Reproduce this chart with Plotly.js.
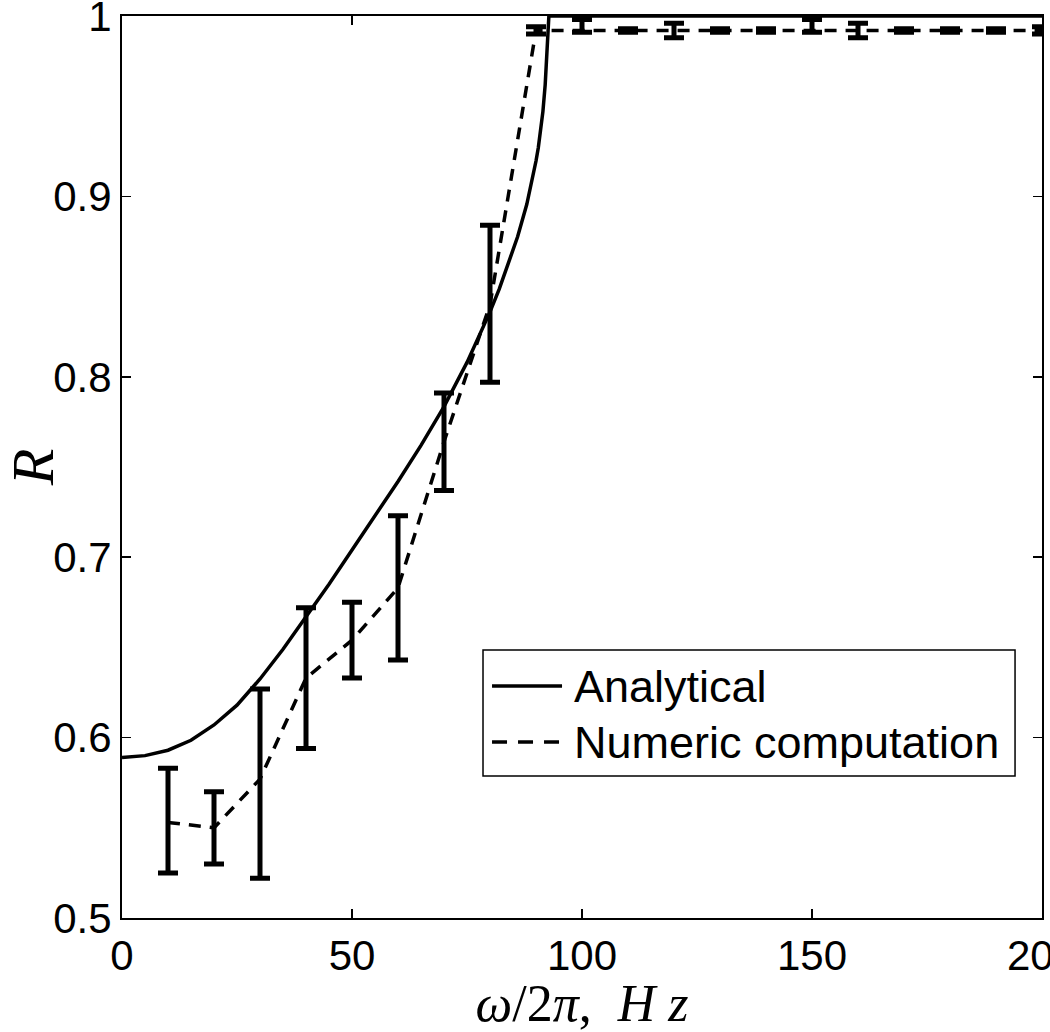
<!DOCTYPE html>
<html>
<head>
<meta charset="utf-8">
<script src="https://cdn.plot.ly/plotly-3.0.1.min.js"></script>
<style>html,body{margin:0;padding:0;background:#fff;}#chart{width:1050px;height:1032px;}</style>
</head>
<body>
<div id="chart"></div>
<script>
// Analytical curve
var analyticX = [0,5,10,15,20,25,30,35,40,45,50,55,60,65,70,75,80,82,84,86,88,89,90,90.5,91,91.5,92,92.3,92.6,92.8,200];
var analyticY = [0.589,0.590,0.593,0.5985,0.607,0.618,0.6325,0.649,0.667,0.685,0.704,0.723,0.742,0.762,0.7835,0.808,0.836,0.8486,0.8624,0.8776,0.8956,0.9066,0.9196,0.927,0.936,0.947,0.962,0.974,0.991,1.0,1.0];

// Numeric computation with error bars
var numericX = [10,20,30,40,50,60,70,80,90,100,110,120,130,140,150,160,170,180,190,200];
var numericY = [0.553,0.550,0.577,0.633,0.654,0.683,0.764,0.840,0.992,0.992,0.992,0.992,0.992,0.992,0.992,0.992,0.992,0.992,0.992,0.992];
var numericErrPlus  = [0.030,0.020,0.050,0.039,0.021,0.040,0.027,0.044,0.002,0.006,0.001,0.004,0.001,0.001,0.006,0.004,0.001,0.001,0.001,0.002];
var numericErrMinus = [0.028,0.020,0.055,0.039,0.021,0.040,0.027,0.043,0.002,0.001,0.001,0.004,0.001,0.001,0.001,0.004,0.001,0.001,0.001,0.002];

var seriesNames = ['Analytical', 'Numeric computation'];

var xTickVals = [0,50,100,150,200];
var xTickText = ['0','50','100','150','200'];
var yTickVals = [0.5,0.6,0.7,0.8,0.9,1];
var yTickText = ['0.5','0.6','0.7','0.8','0.9','1'];

var sansFont = 'Liberation Sans, Arial, sans-serif';
var serifFont = 'Liberation Serif, DejaVu Serif, serif';
var tickFont = {family: sansFont, size: 42, color: '#000'};

var traces = [
  {
    x: analyticX, y: analyticY, type: 'scatter', mode: 'lines',
    name: seriesNames[0], showlegend: false,
    line: {color: '#000', width: 3.5}
  },
  {
    x: numericX, y: numericY, type: 'scatter', mode: 'lines',
    name: seriesNames[1], showlegend: false,
    line: {color: '#000', width: 3.5, dash: '12px,9px'},
    error_y: {type: 'data', symmetric: false, array: numericErrPlus, arrayminus: numericErrMinus,
              color: '#000', thickness: 5, width: 10}
  }
];

// legend box drawn in paper coordinates
var legBox = {x0: 0.3924, x1: 0.9707, y0: 0.1574, y1: 0.2971};
var legRows = [0.2572, 0.1951];
var legLineX = [0.4022, 0.4783];
var legTextX = 0.4891;

var shapes = [
  {type: 'rect', xref: 'paper', yref: 'paper', x0: legBox.x0, x1: legBox.x1, y0: legBox.y0, y1: legBox.y1,
   line: {color: '#000', width: 1.5}, fillcolor: '#fff', layer: 'above'},
  {type: 'line', xref: 'paper', yref: 'paper', x0: legLineX[0], x1: legLineX[1], y0: legRows[0], y1: legRows[0],
   line: {color: '#000', width: 3.5}, layer: 'above'},
  {type: 'line', xref: 'paper', yref: 'paper', x0: legLineX[0], x1: legLineX[1], y0: legRows[1], y1: legRows[1],
   line: {color: '#000', width: 3.5, dash: '15px,11px'}, layer: 'above'}
];

var annotations = seriesNames.map(function (nm, i) {
  return {text: nm, xref: 'paper', yref: 'paper', x: legTextX, y: legRows[i],
          xanchor: 'left', yanchor: 'middle', showarrow: false,
          font: {family: sansFont, size: 45, color: '#000'}};
});

var layout = {
  width: 1050, height: 1032,
  margin: {l: 122, r: 8, t: 16, b: 114, pad: 0},
  paper_bgcolor: '#fff', plot_bgcolor: '#fff',
  showlegend: false,
  shapes: shapes,
  annotations: annotations,
  xaxis: {
    range: [0, 200], tickmode: 'array', tickvals: xTickVals, ticktext: xTickText,
    ticks: 'inside', ticklen: 9, tickwidth: 1.5, tickcolor: '#000',
    showline: true, linecolor: '#000', linewidth: 2, mirror: 'ticks',
    showgrid: false, zeroline: false, tickfont: tickFont, ticklabeloverflow: 'allow',
    title: {text: '<i>ω</i>/2<i>π</i>,&#160;&#160;<i>H&#160;z</i>', font: {family: serifFont, size: 52, color: '#000'}, standoff: 0},
    automargin: false
  },
  yaxis: {
    range: [0.5, 1], tickmode: 'array', tickvals: yTickVals, ticktext: yTickText,
    ticks: 'inside', ticklen: 9, tickwidth: 1.5, tickcolor: '#000',
    showline: true, linecolor: '#000', linewidth: 2, mirror: 'ticks',
    showgrid: false, zeroline: false, tickfont: tickFont, ticklabeloverflow: 'allow',
    title: {text: '<i>R</i>', font: {family: serifFont, size: 60, color: '#000'}, standoff: 10},
    automargin: false
  }
};

Plotly.newPlot('chart', traces, layout, {displayModeBar: false, staticPlot: true});
</script>
</body>
</html>
